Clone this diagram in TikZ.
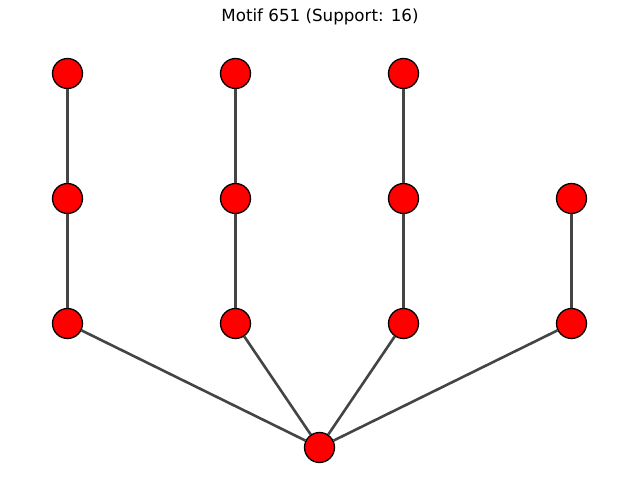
\documentclass[tikz,border=0pt]{standalone}
\usepackage{fontspec}
\setmainfont{DejaVu Sans}
\definecolor{edgegray}{HTML}{444444}
\begin{document}
\begin{tikzpicture}[x=1pt, y=-1pt,
    vertex/.style={circle, draw=black, fill=red, line width=1.3pt, minimum size=30pt, inner sep=0pt},
    link/.style={draw=edgegray, line width=2.6pt}]
    \useasboundingbox (0, 0) rectangle (640, 502);
    \node[font=\fontsize{16.7}{20}\selectfont] (title) at (320, 16.5) {Motif 651 (Support: 16)};

    \node[vertex] (a1) at (67.5, 73.5) {};
    \node[vertex] (b1) at (235.5, 73.5) {};
    \node[vertex] (c1) at (403.5, 73.5) {};
    \node[vertex] (a2) at (67.5, 198.5) {};
    \node[vertex] (b2) at (235.5, 198.5) {};
    \node[vertex] (c2) at (403.5, 198.5) {};
    \node[vertex] (d2) at (571.5, 198.5) {};
    \node[vertex] (a3) at (67.5, 323.5) {};
    \node[vertex] (b3) at (235.5, 323.5) {};
    \node[vertex] (c3) at (403.5, 323.5) {};
    \node[vertex] (d3) at (571.5, 323.5) {};
    \node[vertex] (root) at (319.5, 447.5) {};

    \draw[link] (a1) -- (a2);
    \draw[link] (a2) -- (a3);
    \draw[link] (b1) -- (b2);
    \draw[link] (b2) -- (b3);
    \draw[link] (c1) -- (c2);
    \draw[link] (c2) -- (c3);
    \draw[link] (d2) -- (d3);
    \draw[link] (root) -- (a3);
    \draw[link] (root) -- (b3);
    \draw[link] (root) -- (c3);
    \draw[link] (root) -- (d3);
\end{tikzpicture}
\end{document}
